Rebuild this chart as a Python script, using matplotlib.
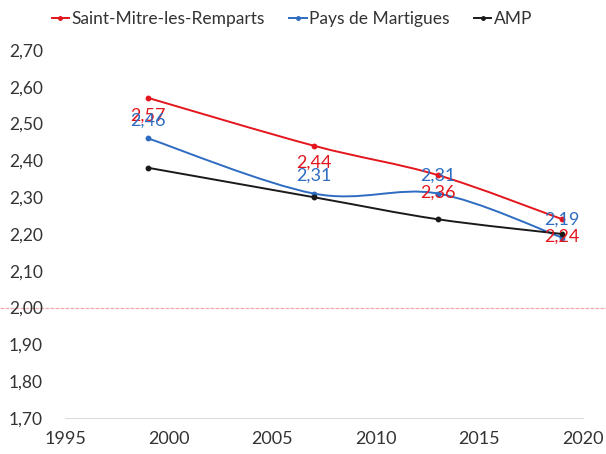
import matplotlib
matplotlib.use("Agg")
import matplotlib.pyplot as plt
import matplotlib.transforms as mtransforms
from matplotlib.path import Path
from matplotlib.patches import PathPatch
from matplotlib.lines import Line2D
from matplotlib.ticker import FuncFormatter

plt.rcParams['font.family'] = ['Lato', 'DejaVu Sans']

# data
years = [1999, 2007, 2013, 2019]
saint_mitre = [2.57, 2.44, 2.36, 2.24]
pays_martigues = [2.46, 2.31, 2.31, 2.19]
amp = [2.38, 2.30, 2.24, 2.20]

series_names = ['Saint-Mitre-les-Remparts', 'Pays de Martigues', 'AMP']
colors = ['#e3161d', '#2e6cc2', '#1a1a1a']

x_ticks = [1995, 2000, 2005, 2010, 2015, 2020]
y_ticks = [1.70, 1.80, 1.90, 2.00, 2.10, 2.20, 2.30, 2.40, 2.50, 2.60, 2.70]


def smooth_path(xs, ys):
    """Bezier path through the points, like the spreadsheet 'smoothed line'"""
    pts = list(zip(xs, ys))
    verts = [pts[0]]
    codes = [Path.MOVETO]
    n = len(pts)
    for i in range(n - 1):
        p0 = pts[i - 1] if i > 0 else pts[i]
        p1 = pts[i]
        p2 = pts[i + 1]
        p3 = pts[i + 2] if i + 2 < n else pts[i + 1]
        c1 = (p1[0] + (p2[0] - p0[0]) / 6, p1[1] + (p2[1] - p0[1]) / 6)
        c2 = (p2[0] - (p3[0] - p1[0]) / 6, p2[1] - (p3[1] - p1[1]) / 6)
        verts += [c1, c2, p2]
        codes += [Path.CURVE4] * 3
    return Path(verts, codes)


def fr(v):
    return f"{v:.2f}".replace('.', ',')


fig = plt.figure(figsize=(6.06, 4.54), dpi=100)
ax = fig.add_axes([65 / 606, 36 / 454, 518 / 606, 368 / 454])

for vals, col in zip([saint_mitre, pays_martigues, amp], colors):
    ax.add_patch(PathPatch(smooth_path(years, vals), fill=False,
                           edgecolor=col, lw=1.4, zorder=3))
    ax.plot(years, vals, 'o', color=col, ms=3.2, zorder=4)

# data labels: red below the point, blue above (they overlap as in the source)
for x, v in zip(years, saint_mitre):
    ax.annotate(fr(v), (x, v), xytext=(0, -12.5), textcoords='offset points',
                ha='center', va='center', color=colors[0], fontsize=13, zorder=5)
for x, v in zip(years, pays_martigues):
    ax.annotate(fr(v), (x, v), xytext=(0, 13), textcoords='offset points',
                ha='center', va='center', color=colors[1], fontsize=13, zorder=5)

# faint pink line at 2,00 across the whole page
trans = mtransforms.blended_transform_factory(fig.transFigure, ax.transData)
ax.plot([0, 1], [2.0, 2.0], transform=trans, color='#f2a9ab', lw=0.9,
        ls=(0, (3, 1)), clip_on=False, zorder=1)

ax.set_xlim(1995, 2020)
ax.set_ylim(1.70, 2.70)
ax.set_xticks(x_ticks)
ax.set_yticks(y_ticks)
ax.yaxis.set_major_formatter(FuncFormatter(lambda v, p: fr(v)))
ax.tick_params(axis='both', length=0, colors='#333333')
ax.tick_params(axis='y', pad=16, labelsize=12.5)
ax.tick_params(axis='x', pad=9, labelsize=13)

for s in ['top', 'right', 'left']:
    ax.spines[s].set_visible(False)
ax.spines['bottom'].set_color('#dcdcdc')
ax.spines['bottom'].set_linewidth(0.8)

handles = [Line2D([], [], color=c, lw=1.4, marker='o', ms=2.5) for c in colors]
fig.legend(handles, series_names, loc='center', bbox_to_anchor=(0.482, 0.958),
           ncol=3, frameon=False, fontsize=12.5, handlelength=1.0,
           handletextpad=0.15, columnspacing=1.4, labelcolor='#333333')

fig.savefig('out.png', dpi=100, facecolor='white')
